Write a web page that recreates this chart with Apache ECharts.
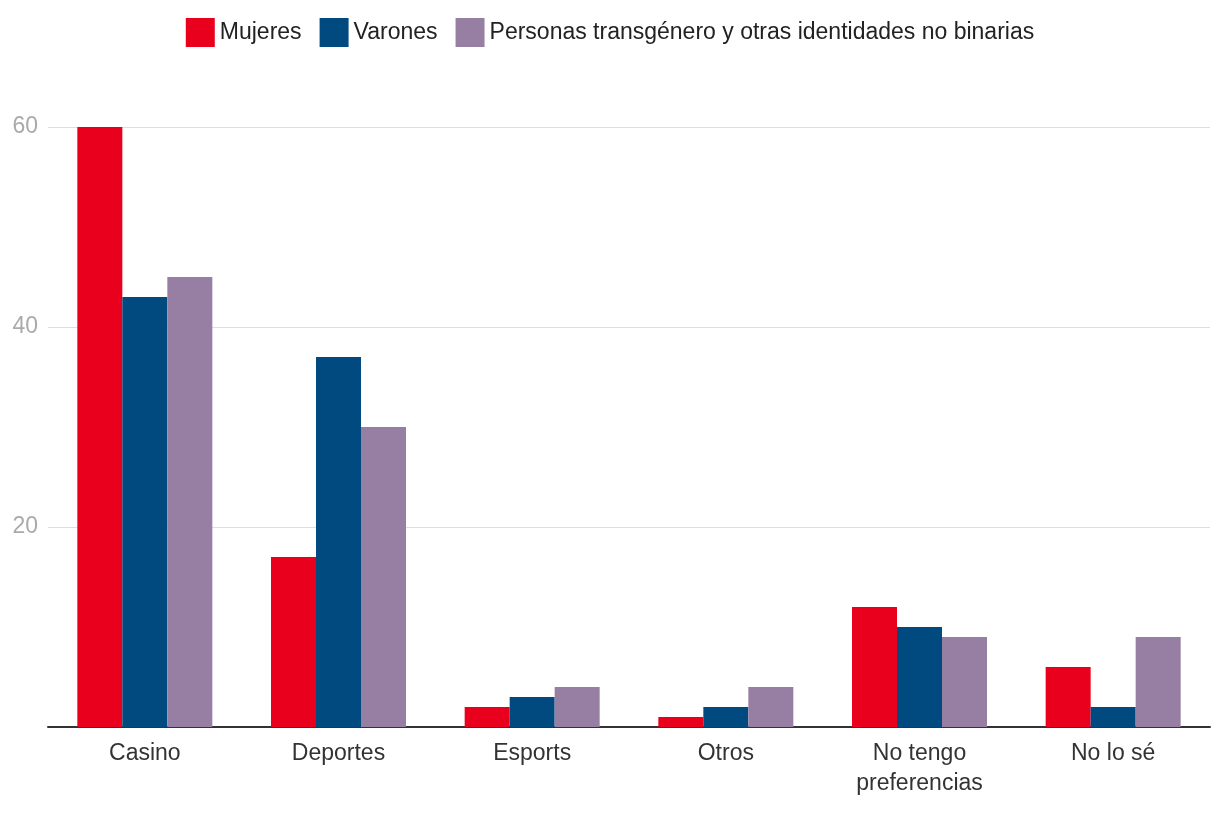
<!DOCTYPE html>
<html><head><meta charset="utf-8">
<script src="https://cdn.jsdelivr.net/npm/echarts@6/dist/echarts.min.js"></script>
<style>html,body{margin:0;padding:0;background:#fff}#c{width:1220px;height:820px}</style>
</head><body><div id="c"></div>
<script>
const categories = ['Casino', 'Deportes', 'Esports', 'Otros', 'No tengo\npreferencias', 'No lo sé'];
const mujeres = [60, 17, 2, 1, 12, 6];
const varones = [43, 37, 3, 2, 10, 2];
const trans = [45, 30, 4, 4, 9, 9];
const seriesNames = ['Mujeres', 'Varones', 'Personas transgénero y otras identidades no binarias'];
const colors = ['#E8001C', '#004A80', '#967FA3'];
const font = '"Liberation Sans", sans-serif';
const chart = echarts.init(document.getElementById('c'), null, {renderer: 'canvas'});
chart.setOption({
  animation: false,
  color: colors,
  textStyle: {fontFamily: font},
  legend: {
    top: 13, left: 'center', itemWidth: 29, itemHeight: 29, itemGap: 18,
    icon: 'rect',
    textStyle: {fontSize: 23, color: '#222', fontFamily: font},
    data: seriesNames
  },
  grid: {left: 48, right: 10, top: 127, bottom: 93, containLabel: false},
  xAxis: {
    type: 'category', data: categories,
    axisLine: {lineStyle: {color: '#333', width: 2}},
    axisTick: {show: false},
    axisLabel: {fontSize: 23, color: '#333', margin: 12, lineHeight: 30, fontFamily: font}
  },
  yAxis: {
    type: 'value', min: 0, max: 60, interval: 20,
    axisLine: {show: false}, axisTick: {show: false},
    splitLine: {lineStyle: {color: '#ddd', width: 1}},
    axisLabel: {fontSize: 23, color: '#aaa', margin: 10, fontFamily: font,
      formatter: v => v === 0 ? '' : String(v)}
  },
  series: [
    {name: seriesNames[0], type: 'bar', data: mujeres, barWidth: 45, barGap: '0%'},
    {name: seriesNames[1], type: 'bar', data: varones, barWidth: 45, barGap: '0%'},
    {name: seriesNames[2], type: 'bar', data: trans, barWidth: 45, barGap: '0%'}
  ]
});
</script></body></html>
